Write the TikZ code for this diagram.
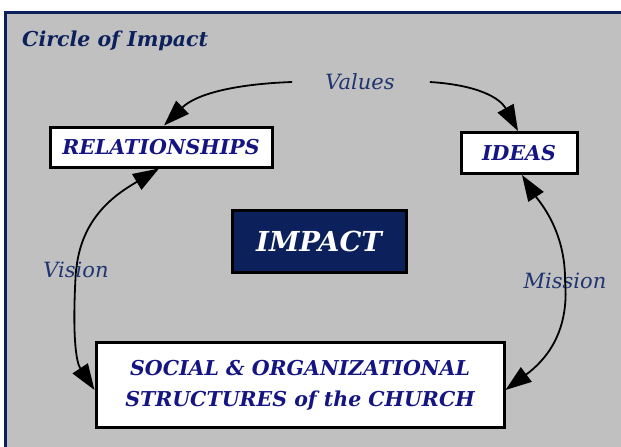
\documentclass[tikz,border=0pt]{standalone}
\usepackage{fontspec}
\setmainfont{DejaVu Serif}
\usetikzlibrary{arrows.meta}
\definecolor{navy}{RGB}{20,20,130}
\definecolor{impactblue}{RGB}{12,32,92}
\definecolor{labelblue}{RGB}{32,52,112}
\definecolor{panelgray}{RGB}{192,192,192}
\tikzset{
  box/.style={draw=black, line width=3pt, fill=white, text=navy, inner sep=0pt, align=center,
    font=\bfseries\itshape\fontsize{20.5}{31}\selectfont},
  lbl/.style={text=labelblue, inner sep=1pt, font=\itshape\fontsize{21}{24}\selectfont},
  arr/.style={-{Triangle[length=26pt,width=18pt]}, line width=1.8pt}
}

\begin{document}
\begin{tikzpicture}[x=1pt,y=-1pt]
\useasboundingbox (0,0) rectangle (621,447);
\fill[white] (0,0) rectangle (621,447);
\draw[fill=panelgray, draw=impactblue, line width=3pt] (5,12) rectangle (640,470);

% title and the three labels
\node[anchor=west, text=impactblue, inner sep=0pt, font=\bfseries\itshape\fontsize{20.5}{24}\selectfont] (title) at (22,41) {Circle of Impact};
\node[lbl] (values) at (360,82) {Values};
\node[lbl] (vision) at (76,270) {Vision};
\node[lbl] (mission) at (565,281) {Mission};

% boxes
\node[box, minimum width=222, minimum height=40] (rel) at (161,147) {RELATIONSHIPS};
\node[box, minimum width=116, minimum height=41] (ideas) at (519,153) {IDEAS};
\node[box, fill=impactblue, text=white, minimum width=174, minimum height=62,
  font=\bfseries\itshape\fontsize{27.5}{30}\selectfont] (impact) at (319,241) {IMPACT};
\node[box, minimum width=408, minimum height=85] (soc) at (300,385) {SOCIAL \& ORGANIZATIONAL\\STRUCTURES of the CHURCH};

% arrows
\draw[arr] ([xshift=-32]values.west) .. controls (235,84) and (196,94) .. ([xshift=3]rel.north);
\draw[arr] ([xshift=34]values.east) .. controls (478,85) and (500,98) .. ([xshift=-1]ideas.north);
\draw[arr] ([yshift=-12]vision.north) .. controls (80,215) and (120,192) .. ([xshift=-2]rel.south);
\draw[arr] ([yshift=10]vision.south) .. controls (72,335) and (76,362) .. ([yshift=-5]soc.west);
\draw[arr] ([yshift=-10]mission.north) .. controls (566,230) and (538,200) .. ([xshift=3]ideas.south);
\draw[arr] ([yshift=10]mission.south) .. controls (570,335) and (543,362) .. ([yshift=-5]soc.east);

\end{tikzpicture}
\end{document}
